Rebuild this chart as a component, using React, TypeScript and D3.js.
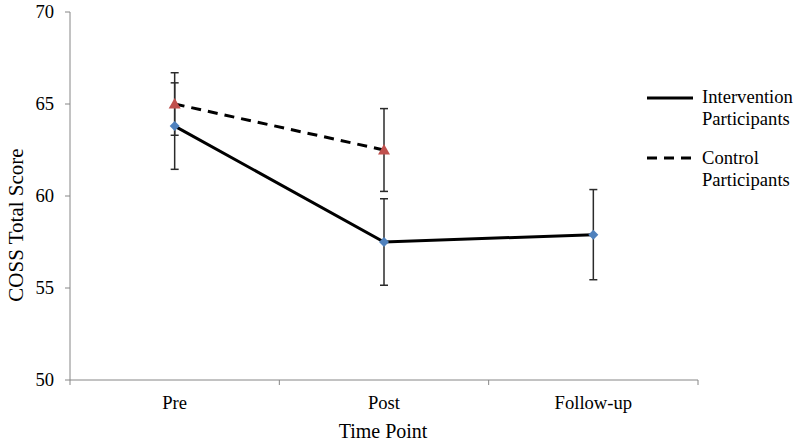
import React from "react";
import * as d3 from "d3";

const categories = ["Pre", "Post", "Follow-up"];
const interventionMeans = [63.8, 57.5, 57.9];
const interventionErr = [2.35, 2.35, 2.45];
const controlMeans = [65.0, 62.5];
const controlErr = [1.7, 2.25];
const yTicks = [50, 55, 60, 65, 70];

const W = 800, H = 444;
const left = 70, right = 698, top = 12, bottom = 380;
const FONT = "Liberation Serif";

export default function App() {
  const x = d3.scaleBand<string>().domain(categories).range([left, right]);
  const cx = (c: string) => (x(c) as number) + x.bandwidth() / 2;
  const y = d3.scaleLinear().domain([50, 70]).range([bottom, top]);
  const line = d3.line<number>().x((_, i) => cx(categories[i])).y((d) => y(d));
  const boundaries = [...categories.map((c) => x(c) as number), right];

  const errBar = (c: string, m: number, e: number, key: string) => {
    const xx = cx(c);
    return (
      <g key={key} stroke="#2b2b2b" strokeWidth={1.5}>
        <line x1={xx} x2={xx} y1={y(m + e)} y2={y(m - e)} />
        <line x1={xx - 4} x2={xx + 4} y1={y(m + e)} y2={y(m + e)} />
        <line x1={xx - 4} x2={xx + 4} y1={y(m - e)} y2={y(m - e)} />
      </g>
    );
  };

  const T = (props: any) => <text fontFamily={FONT} fontSize={18.6} fill="#000" {...props} />;

  return (
    <svg width={W} height={H} style={{ position: "absolute", left: 0, top: 0, background: "#fff" }}>
      <rect width={W} height={H} fill="#fff" />
      {/* y axis */}
      <line x1={left} x2={left} y1={top} y2={bottom} stroke="#868686" strokeWidth={1} />
      {yTicks.map((t) => (
        <g key={t}>
          <line x1={left - 5} x2={left} y1={y(t)} y2={y(t)} stroke="#868686" />
          <T x={54} y={y(t) + 6} textAnchor="end">{t}</T>
        </g>
      ))}
      {/* x axis */}
      <line x1={left} x2={right} y1={bottom} y2={bottom} stroke="#868686" strokeWidth={1} />
      {boundaries.map((b, i) => (
        <line key={i} x1={b} x2={b} y1={bottom} y2={bottom + 5} stroke="#868686" />
      ))}
      {categories.map((c) => (
        <T key={c} x={cx(c)} y={409} textAnchor="middle">{c}</T>
      ))}
      <T x={383} y={438} textAnchor="middle" fontSize={20}>Time Point</T>
      <T transform={`translate(23,225) rotate(-90)`} textAnchor="middle" fontSize={21}>COSS Total Score</T>

      {/* error bars */}
      {controlMeans.map((m, i) => errBar(categories[i], m, controlErr[i], "c" + i))}
      {interventionMeans.map((m, i) => errBar(categories[i], m, interventionErr[i], "i" + i))}

      {/* lines */}
      <path d={line(controlMeans) as string} fill="none" stroke="#000" strokeWidth={3} strokeDasharray="10,7" />
      <path d={line(interventionMeans) as string} fill="none" stroke="#000" strokeWidth={3} />

      {/* markers */}
      {controlMeans.map((m, i) => {
        const xx = cx(categories[i]);
        const yy = y(m);
        return <path key={"ct" + i} d={`M${xx},${yy - 6} L${xx + 6},${yy + 4.5} L${xx - 6},${yy + 4.5} Z`} fill="#C0504D" />;
      })}
      {interventionMeans.map((m, i) => {
        const xx = cx(categories[i]);
        const yy = y(m);
        return <path key={"id" + i} d={`M${xx},${yy - 5} L${xx + 5},${yy} L${xx},${yy + 5} L${xx - 5},${yy} Z`} fill="#4F81BD" />;
      })}

      {/* legend */}
      <line x1={647} x2={693} y1={98} y2={98} stroke="#000" strokeWidth={3} />
      <T x={702} y={103}>Intervention</T>
      <T x={702} y={125}>Participants</T>
      <line x1={647} x2={693} y1={158} y2={158} stroke="#000" strokeWidth={3} strokeDasharray="10,7" />
      <T x={702} y={164}>Control</T>
      <T x={702} y={186}>Participants</T>
    </svg>
  );
}
